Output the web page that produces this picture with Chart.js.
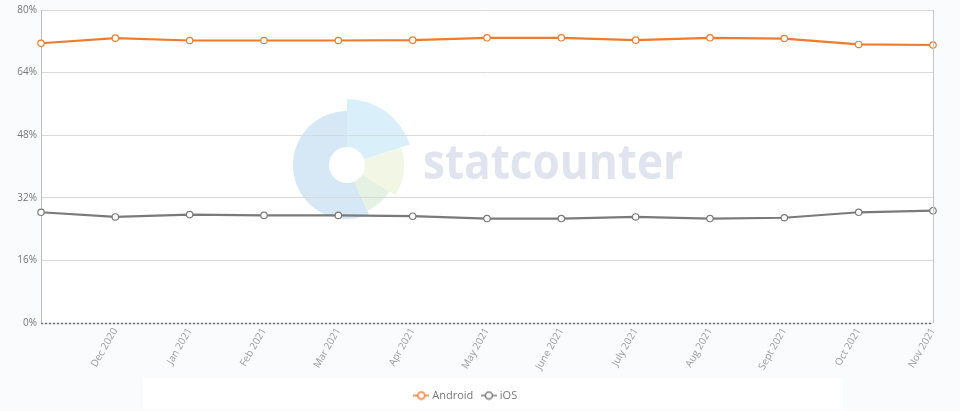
<!DOCTYPE html>
<html>
<head>
<meta charset="utf-8">
<script src="https://cdn.jsdelivr.net/npm/chart.js@4"></script>
<style>
  html, body { margin: 0; padding: 0; background: #fafbfd; }
  canvas { display: block; }
</style>
</head>
<body>
<canvas id="osChart" width="960" height="411" style="width:960px;height:411px"></canvas>
<script>
// monthly mobile OS share, Nov 2020 - Nov 2021
var months = ['Nov 2020', 'Dec 2020', 'Jan 2021', 'Feb 2021', 'Mar 2021', 'Apr 2021', 'May 2021',
              'June 2021', 'July 2021', 'Aug 2021', 'Sept 2021', 'Oct 2021', 'Nov 2021'];
var android = [71.5, 72.8, 72.2, 72.2, 72.2, 72.3, 72.9, 72.9, 72.3, 72.9, 72.7, 71.2, 71.05];
var ios = [28.3, 27.1, 27.7, 27.5, 27.5, 27.3, 26.7, 26.7, 27.1, 26.7, 26.9, 28.3, 28.7];
var yTicks = [0, 16, 32, 48, 64, 80];

function legendMark(color) {
    var c = document.createElement('canvas');
    c.width = 16; c.height = 10;
    var g = c.getContext('2d');
    g.strokeStyle = color;
    g.lineWidth = 1.5;
    g.beginPath(); g.moveTo(0, 5); g.lineTo(16, 5); g.stroke();
    g.fillStyle = '#fff';
    g.beginPath(); g.arc(8, 5, 3.5, 0, Math.PI * 2); g.fill(); g.stroke();
    return c;
}

// page background, white plot, legend panel and the faint watermark
var backdrop = {
    id: 'backdrop',
    beforeDraw: function (chart) {
        var ctx = chart.ctx, a = chart.chartArea;
        ctx.save();
        ctx.fillStyle = '#fafbfd';
        ctx.fillRect(0, 0, chart.width, chart.height);
        ctx.fillStyle = '#ffffff';
        ctx.fillRect(a.left, a.top, a.right - a.left, a.bottom - a.top);
        ctx.fillRect(143, 378, 700, 31);

        var cx = 347, cy = 165;
        var parts = [
            [66, 270, 54, '#d6e7f6'],
            [-90, -18, 66, '#d9f0fb'],
            [-18, 32, 57, '#f2f6e4'],
            [32, 66, 50, '#e5f2e3']
        ];
        parts.forEach(function (p) {
            ctx.fillStyle = p[3];
            ctx.beginPath();
            ctx.moveTo(cx, cy);
            ctx.arc(cx, cy, p[2], p[0] * Math.PI / 180, p[1] * Math.PI / 180);
            ctx.closePath();
            ctx.fill();
        });
        ctx.fillStyle = '#ffffff';
        ctx.beginPath(); ctx.arc(cx, cy, 18, 0, Math.PI * 2); ctx.fill();

        ctx.fillStyle = '#dfe4ee';
        ctx.font = 'bold 48px "Open Sans"';
        ctx.textBaseline = 'alphabetic';
        var w = ctx.measureText('statcounter').width;
        ctx.translate(423, 179);
        ctx.scale(260 / w, 1);
        ctx.fillText('statcounter', 0, 0);
        ctx.restore();
    },
    afterDraw: function (chart) {
        var ctx = chart.ctx, a = chart.chartArea;
        var r = Math.round(a.right) + 0.5, b = Math.round(a.bottom) + 0.5;
        ctx.save();
        ctx.strokeStyle = '#c4c4c4';
        ctx.lineWidth = 1;
        ctx.beginPath();
        ctx.moveTo(r, a.top);
        ctx.lineTo(r, a.bottom);
        ctx.stroke();
        // dotted base line
        ctx.strokeStyle = '#6f6f6f';
        ctx.lineWidth = 1.5;
        ctx.setLineDash([2, 2]);
        ctx.beginPath();
        ctx.moveTo(a.left, b);
        ctx.lineTo(a.right, b);
        ctx.stroke();
        ctx.restore();
    }
};

var ctx = document.getElementById('osChart').getContext('2d');
var osChart = new Chart(ctx, {
    type: 'line',
    data: {
        labels: months,
        datasets: [{
            label: 'Android',
            data: android,
            borderColor: '#ef7b2d',
            backgroundColor: '#ffffff',
            borderWidth: 2.2,
            pointRadius: 3.2,
            pointBorderWidth: 1.2,
            pointBackgroundColor: '#ffffff',
            pointBorderColor: '#ef7b2d',
            pointStyle: 'circle',
            tension: 0
        }, {
            label: 'iOS',
            data: ios,
            borderColor: '#7a7a7a',
            backgroundColor: '#ffffff',
            borderWidth: 2.2,
            pointRadius: 3.2,
            pointBorderWidth: 1.2,
            pointBackgroundColor: '#ffffff',
            pointBorderColor: '#7a7a7a',
            pointStyle: 'circle',
            tension: 0
        }]
    },
    options: {
        responsive: false,
        animation: false,
        devicePixelRatio: 1,
        layout: { padding: { left: 0, right: 27, top: 9, bottom: 0 } },
        scales: {
            x: {
                grid: { display: false, drawTicks: false },
                border: { display: false },
                afterFit: function (s) { s.height = 57; },
                ticks: {
                    minRotation: 60,
                    maxRotation: 60,
                    autoSkip: false,
                    padding: 3,
                    color: '#9a9a9a',
                    font: { family: 'Open Sans', size: 10 },
                    callback: function (v, i) { return i === 0 ? '' : months[i]; }
                }
            },
            y: {
                min: 0,
                max: 80,
                afterFit: function (s) { s.width = 41; },
                afterBuildTicks: function (s) { s.ticks = yTicks.map(function (v) { return { value: v }; }); },
                grid: { color: '#d9d9d9', drawTicks: false },
                border: { color: '#bdbdbd' },
                ticks: {
                    padding: 4,
                    color: '#777',
                    font: { family: 'Open Sans', size: 10 },
                    callback: function (v) { return v + '%'; }
                }
            }
        },
        plugins: {
            tooltip: { enabled: false },
            legend: {
                position: 'bottom',
                labels: {
                    usePointStyle: true,
                    color: '#777',
                    font: { family: 'Open Sans', size: 11 },
                    padding: 10,
                    generateLabels: function (chart) {
                        return chart.data.datasets.map(function (d, i) {
                            return {
                                text: d.label,
                                datasetIndex: i,
                                pointStyle: legendMark(d.borderColor),
                                fontColor: '#777',
                                hidden: false,
                                lineWidth: 0,
                                strokeStyle: d.borderColor,
                                fillStyle: '#fff'
                            };
                        });
                    }
                }
            }
        }
    },
    plugins: [backdrop]
});
</script>
</body>
</html>
